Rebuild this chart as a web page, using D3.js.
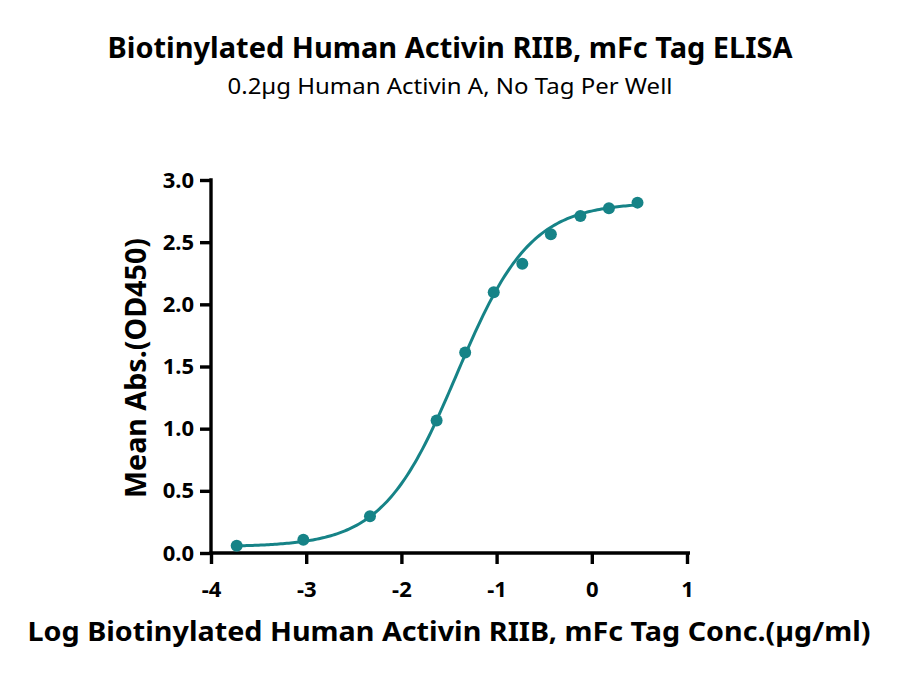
<!DOCTYPE html>
<html>
<head>
<meta charset="utf-8">
<script src="https://cdn.jsdelivr.net/npm/d3@7"></script>
<style>
  body { margin: 0; background: #fff; }
  text { font-family: "Noto Sans", sans-serif; }
</style>
</head>
<body>
<svg id="chart"></svg>
<script>
// log concentration (µg/ml) and mean OD450
var logConc = [-3.73, -3.03, -2.33, -1.63, -1.33, -1.03, -0.73, -0.43, -0.12, 0.18, 0.48];
var meanAbs = [0.059, 0.107, 0.295, 1.066, 1.613, 2.098, 2.326, 2.564, 2.711, 2.773, 2.818];
var xTicks = [-4, -3, -2, -1, 0, 1];
var yTicks = [0, 0.5, 1.0, 1.5, 2.0, 2.5, 3.0];
// 4PL fit parameters (bottom, top, logEC50, hill), estimated from the curve
var fit = { bottom: 0.05, top: 2.82, logEC50: -1.42, hill: 1.12 };

var settings = {
  width: 900,
  height: 679,
  color: "#168387",
  plot: { left: 211, right: 687, top: 180, bottom: 553 }
};

var svg = d3.select("#chart")
  .attr("width", settings.width)
  .attr("height", settings.height);

var xScale = d3.scaleLinear().domain([-4, 1]).range([settings.plot.left, settings.plot.right]);
var yScale = d3.scaleLinear().domain([0, 3]).range([settings.plot.bottom, settings.plot.top]);

var xAxis = d3.axisBottom(xScale).tickValues(xTicks).tickSize(11).tickPadding(17)
  .tickFormat(function(d) { return String(d); });
var yAxis = d3.axisLeft(yScale).tickValues(yTicks).tickSize(11).tickPadding(6)
  .tickFormat(d3.format(".1f"));

function styleAxis(g) {
  g.select(".domain").attr("stroke", "#000").attr("stroke-width", 3.4);
  g.selectAll(".tick line").attr("stroke", "#000").attr("stroke-width", 3.4);
  g.selectAll(".tick text")
    .attr("fill", "#000")
    .style("font-family", "'Noto Sans', sans-serif")
    .style("font-size", "22px")
    .style("font-weight", "bold");
}

svg.append("g")
  .attr("transform", "translate(0," + settings.plot.bottom + ")")
  .call(xAxis)
  .call(styleAxis)
  .select(".domain").attr("d", "M" + (settings.plot.left - 1.7) + ",0H" + (settings.plot.right + 3));

svg.append("g")
  .attr("transform", "translate(" + settings.plot.left + ",0)")
  .call(yAxis)
  .call(styleAxis)
  .select(".domain").attr("d", "M0," + (settings.plot.top - 1.7) + "V" + (settings.plot.bottom + 1.7));

// fitted curve sampled across the data range
function fourPL(x) {
  return fit.bottom + (fit.top - fit.bottom) / (1 + Math.pow(10, (fit.logEC50 - x) * fit.hill));
}
var xs = d3.range(0, 201).map(function(i) {
  return logConc[0] + (logConc[logConc.length - 1] - logConc[0]) * i / 200;
});
var line = d3.line()
  .x(function(d) { return xScale(d); })
  .y(function(d) { return yScale(fourPL(d)); });

svg.append("path")
  .datum(xs)
  .attr("d", line)
  .attr("fill", "none")
  .attr("stroke", settings.color)
  .attr("stroke-width", 3);

svg.selectAll("circle.pt")
  .data(logConc)
  .enter().append("circle")
  .attr("class", "pt")
  .attr("cx", function(d) { return xScale(d); })
  .attr("cy", function(d, i) { return yScale(meanAbs[i]); })
  .attr("r", 6)
  .attr("fill", settings.color);

// titles
svg.append("text")
  .attr("x", 450).attr("y", 58)
  .attr("text-anchor", "middle")
  .attr("textLength", 685).attr("lengthAdjust", "spacingAndGlyphs")
  .style("font-size", "29px").style("font-weight", "bold")
  .text("Biotinylated Human Activin RIIB, mFc Tag ELISA");

svg.append("text")
  .attr("x", 450).attr("y", 94)
  .attr("text-anchor", "middle")
  .attr("textLength", 445).attr("lengthAdjust", "spacingAndGlyphs")
  .style("font-size", "21px")
  .text("0.2µg Human Activin A, No Tag Per Well");

svg.append("text")
  .attr("x", 449).attr("y", 641)
  .attr("text-anchor", "middle")
  .attr("textLength", 843).attr("lengthAdjust", "spacingAndGlyphs")
  .style("font-size", "27px").style("font-weight", "bold")
  .text("Log Biotinylated Human Activin RIIB, mFc Tag Conc.(µg/ml)");

svg.append("text")
  .attr("transform", "translate(146,368) rotate(-90)")
  .attr("text-anchor", "middle")
  .attr("textLength", 260).attr("lengthAdjust", "spacingAndGlyphs")
  .style("font-size", "28px").style("font-weight", "bold")
  .text("Mean Abs.(OD450)");
</script>
</body>
</html>
